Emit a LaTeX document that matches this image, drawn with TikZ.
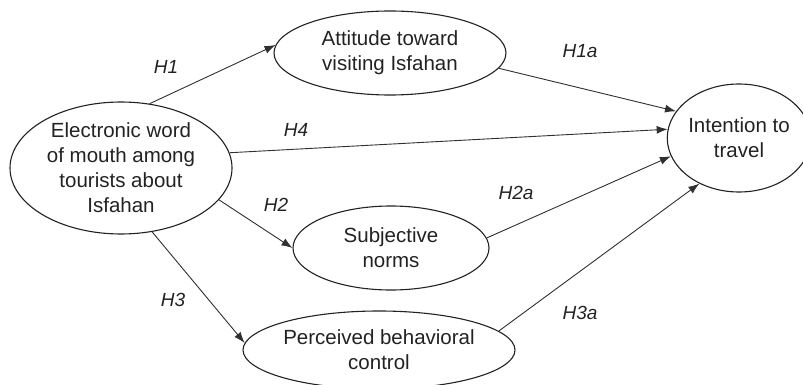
\documentclass[tikz,border=0pt]{standalone}
\usepackage{fontspec}
\setmainfont{Liberation Sans}
\usetikzlibrary{shapes.geometric,arrows.meta}
\definecolor{ink}{HTML}{222222}
\definecolor{line}{HTML}{303030}
\tikzset{
  construct/.style={ellipse, draw=ink, line width=1.1pt, align=center, inner sep=0pt,
                    text=ink, font=\fontsize{20.5}{25}\selectfont},
  ar/.style={-{Latex[length=11pt,width=8pt]}, line width=0.9pt, color=line},
  hyp/.style={font=\fontsize{19}{22}\selectfont\itshape, text=ink},
}

\begin{document}
\begin{tikzpicture}[x=1pt, y=-1pt]
\useasboundingbox (0,0) rectangle (803,385);

% the five constructs
\node[construct, minimum width=222pt, minimum height=132pt] (ewom) at (121,168)
  {Electronic word\\of mouth among\\tourists about\\Isfahan};
\node[construct, minimum width=232pt, minimum height=84pt] (att) at (390,53)
  {Attitude toward\\visiting Isfahan};
\node[construct, minimum width=196pt, minimum height=84pt] (subj) at (391,248)
  {Subjective\\norms};
\node[construct, minimum width=272pt, minimum height=78pt] (pbc) at (379,350)
  {Perceived behavioral\\control};
\node[construct, minimum width=126pt, minimum height=108pt] (intent) at (739,138)
  {Intention to\\travel};

% hypotheses
\draw[ar] (ewom.66) -- (att.176);
\draw[ar] (ewom.8) -- (intent.173);
\draw[ar] (ewom.-18) -- (subj.180);
\draw[ar] (ewom.-64) -- (pbc.177);
\draw[ar] (att.-8) -- (intent.157);
\draw[ar] (subj.6) -- (intent.195);
\draw[ar] (pbc.9) -- (intent.229);

\node[hyp] (h1) at (166,67) {H1};
\node[hyp] (h4) at (296,130) {H4};
\node[hyp] (h2) at (276,205) {H2};
\node[hyp] (h3) at (173,300) {H3};
\node[hyp] (h1a) at (580,51) {H1a};
\node[hyp] (h2a) at (516,193) {H2a};
\node[hyp] (h3a) at (580,313) {H3a};

\end{tikzpicture}
\end{document}
